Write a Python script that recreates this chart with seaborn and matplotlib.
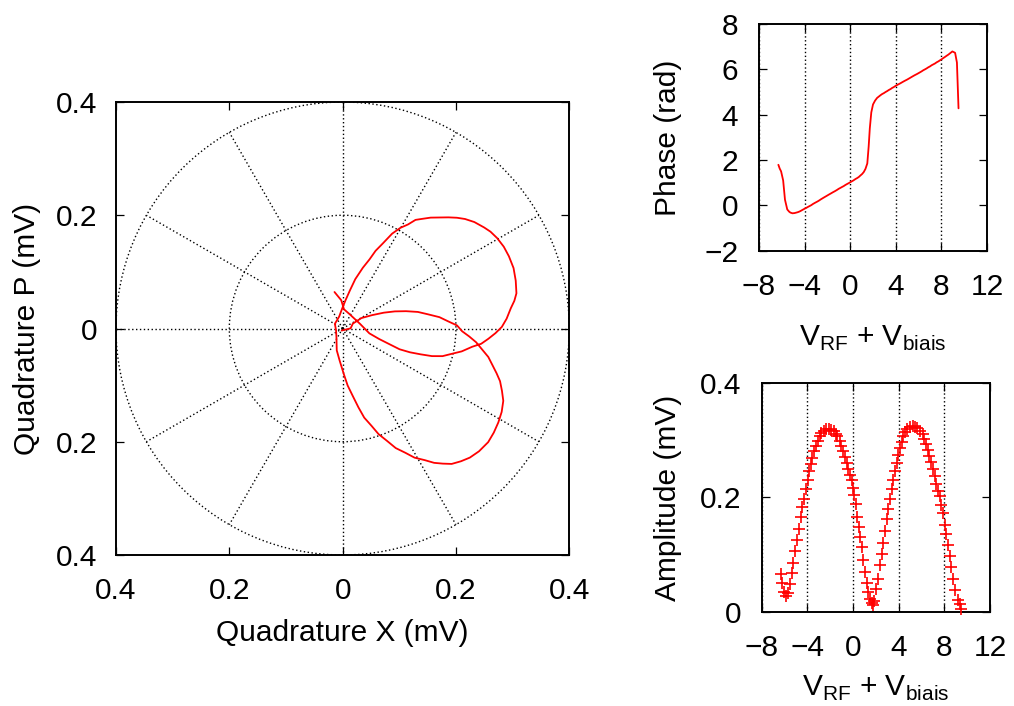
import numpy as np
import matplotlib
matplotlib.use('Agg')
import matplotlib.pyplot as plt
from matplotlib.patches import Circle
import seaborn as sns

# sweep V_RF + V_biais
v_sweep = [-6.30, -6.18, -6.06, -5.88, -5.72, -5.52, -5.35, -5.24, -5.06, -4.88,
           -4.73, -4.59, -4.44, -4.29, -4.15, -3.97, -3.85, -3.71, -3.56, -3.41,
           -3.27, -3.06, -2.91, -2.77, -2.56, -2.33, -2.09, -1.89, -1.68, -1.51,
           -1.36, -1.16, -1.01, -0.86, -0.72, -0.57, -0.42, -0.28, -0.13, -0.02,
           0.11, 0.25, 0.37, 0.49, 0.60, 0.75, 0.90, 1.04, 1.19, 1.34,
           1.50, 1.62, 1.72, 1.85, 2.00, 2.18, 2.36, 2.51, 2.66, 2.80,
           2.95, 3.10, 3.24, 3.39, 3.54, 3.68, 3.83, 3.98, 4.12, 4.27,
           4.42, 4.59, 4.77, 5.00, 5.24, 5.44, 5.65, 5.88, 6.09, 6.26,
           6.41, 6.56, 6.70, 6.85, 7.00, 7.14, 7.29, 7.44, 7.58, 7.73,
           7.88, 8.03, 8.17, 8.32, 8.46, 8.61, 8.76, 8.96, 9.20, 9.36,
           9.50]

# amplitude (mV)
amplitude = [0.066, 0.050, 0.034, 0.028, 0.032, 0.048, 0.067, 0.085, 0.107, 0.126,
             0.145, 0.165, 0.183, 0.197, 0.214, 0.231, 0.246, 0.258, 0.270, 0.281,
             0.290, 0.299, 0.307, 0.313, 0.317, 0.320, 0.320, 0.319, 0.316, 0.312,
             0.307, 0.299, 0.290, 0.281, 0.271, 0.261, 0.250, 0.240, 0.231, 0.217,
             0.205, 0.189, 0.166, 0.149, 0.131, 0.113, 0.090, 0.069, 0.050, 0.034,
             0.022, 0.016, 0.012, 0.019, 0.040, 0.057, 0.081, 0.101, 0.120, 0.142,
             0.162, 0.179, 0.197, 0.214, 0.231, 0.246, 0.261, 0.274, 0.287, 0.297,
             0.307, 0.314, 0.320, 0.324, 0.326, 0.324, 0.321, 0.317, 0.311, 0.302,
             0.293, 0.283, 0.273, 0.262, 0.250, 0.237, 0.224, 0.211, 0.202, 0.187,
             0.172, 0.152, 0.136, 0.116, 0.097, 0.078, 0.057, 0.038, 0.020, 0.014,
             0.004]

# phase (rad)
phase = [1.79, 1.62, 1.50, 1.10, 0.25, -0.18, -0.28, -0.32, -0.35, -0.34,
         -0.32, -0.30, -0.27, -0.23, -0.19, -0.14, -0.11, -0.07, -0.03, 0.01,
         0.06, 0.12, 0.16, 0.20, 0.27, 0.34, 0.41, 0.47, 0.53, 0.58,
         0.62, 0.68, 0.73, 0.77, 0.81, 0.85, 0.90, 0.94, 0.98, 1.01,
         1.05, 1.09, 1.13, 1.17, 1.20, 1.25, 1.32, 1.38, 1.47, 1.61,
         1.85, 2.60, 3.40, 4.10, 4.45, 4.62, 4.74, 4.80, 4.86, 4.91,
         4.95, 5.00, 5.04, 5.09, 5.13, 5.18, 5.22, 5.27, 5.31, 5.35,
         5.39, 5.44, 5.49, 5.55, 5.62, 5.68, 5.74, 5.80, 5.86, 5.91,
         5.96, 6.00, 6.04, 6.09, 6.13, 6.18, 6.22, 6.26, 6.31, 6.35,
         6.40, 6.45, 6.50, 6.55, 6.60, 6.65, 6.71, 6.79, 6.73, 6.30,
         4.28]

quad_ticks = [-0.4, -0.2, 0, 0.2, 0.4]
quad_labels = ['0.4', '0.2', '0', '0.2', '0.4']
v_ticks = [-8, -4, 0, 4, 8, 12]
phase_ticks = [-2, 0, 2, 4, 6, 8]
amp_ticks = [0, 0.2, 0.4]

# style
sns.set_style('ticks')
plt.rcParams['font.family'] = ['Liberation Sans', 'DejaVu Sans']
plt.rcParams['mathtext.fontset'] = 'custom'
plt.rcParams['mathtext.rm'] = 'Liberation Sans'
plt.rcParams['font.size'] = 21.5
plt.rcParams['axes.linewidth'] = 1.4
plt.rcParams['axes.edgecolor'] = 'black'
plt.rcParams['xtick.color'] = 'black'
plt.rcParams['ytick.color'] = 'black'
plt.rcParams['text.color'] = 'black'
plt.rcParams['axes.labelcolor'] = 'black'

FS = 21.5
DOT = (0, (1, 1.8))
vlabel = r'V$_\mathregular{RF}$ + V$_\mathregular{biais}$'

fig = plt.figure(figsize=(10.14, 7.06), dpi=100)


def frame_ticks(ax, xpad, ypad):
    ax.tick_params(direction='in', length=6, width=0.9, top=True, right=True,
                   labelsize=FS)
    ax.tick_params(axis='x', pad=xpad)
    ax.tick_params(axis='y', pad=ypad)
    for s in ax.spines.values():
        s.set_visible(True)
        s.set_linewidth(1.4)


# polar plot (quadratures)
amp = np.array(amplitude)
ph = np.array(phase)
quad_x = amp * np.cos(ph)
quad_y = amp * np.sin(ph)

ax1 = fig.add_axes([0.1144, 0.2139, 0.4470, 0.6416])
for r in [0.2, 0.4]:
    ax1.add_patch(Circle((0, 0), r, fill=False, ec='black', lw=1.0, ls=DOT, zorder=1))
for a in range(0, 360, 30):
    t = np.deg2rad(a)
    ax1.plot([0, 0.4 * np.cos(t)], [0, 0.4 * np.sin(t)], color='black', lw=1.0,
             ls=DOT, zorder=1)
sns.lineplot(x=quad_x, y=quad_y, sort=False, estimator=None, color='red', lw=1.3,
             ax=ax1, zorder=3)
ax1.set_xlim(-0.4, 0.4)
ax1.set_ylim(-0.4, 0.4)
ax1.set_xticks(quad_ticks)
ax1.set_xticklabels(quad_labels)
ax1.set_yticks(quad_ticks)
ax1.set_yticklabels(quad_labels)
frame_ticks(ax1, 16, 13.5)
ax1.set_xlabel('Quadrature X (mV)', fontsize=FS, va='center')
ax1.set_ylabel('Quadrature P (mV)', fontsize=FS, va='center')
ax1.xaxis.set_label_coords(0.5, -0.172)
ax1.yaxis.set_label_coords(-0.196, 0.5)

# phase
ax2 = fig.add_axes([0.7485, 0.6449, 0.2249, 0.3211])
sns.lineplot(x=v_sweep, y=phase, sort=False, estimator=None, color='red', lw=1.3,
             ax=ax2, zorder=3)
ax2.set_xlim(-8, 12)
ax2.set_ylim(-2, 8)
ax2.set_xticks(v_ticks)
ax2.set_yticks(phase_ticks)
ax2.grid(axis='x', color='black', lw=1.0, ls=DOT)
frame_ticks(ax2, 16, 15)
ax2.set_xlabel(vlabel, fontsize=FS, va='center')
ax2.set_ylabel('Phase (rad)', fontsize=FS, va='center')
ax2.xaxis.set_label_coords(0.5, -0.385)
ax2.yaxis.set_label_coords(-0.399, 0.5)

# amplitude
ax3 = fig.add_axes([0.7512, 0.1336, 0.2251, 0.3235])
sns.scatterplot(x=v_sweep, y=amplitude, marker='+', color='red', s=85,
                linewidth=1.2, ax=ax3, zorder=3, clip_on=False)
ax3.set_xlim(-8, 12)
ax3.set_ylim(0, 0.4)
ax3.set_xticks(v_ticks)
ax3.set_yticks(amp_ticks)
ax3.set_yticklabels(['0', '0.2', '0.4'])
ax3.grid(axis='x', color='black', lw=1.0, ls=DOT)
frame_ticks(ax3, 16, 15)
ax3.set_xlabel(vlabel, fontsize=FS, va='center')
ax3.set_ylabel('Amplitude (mV)', fontsize=FS, va='center')
ax3.xaxis.set_label_coords(0.5, -0.335)
ax3.yaxis.set_label_coords(-0.410, 0.5)

fig.savefig('out.png', dpi=100)
